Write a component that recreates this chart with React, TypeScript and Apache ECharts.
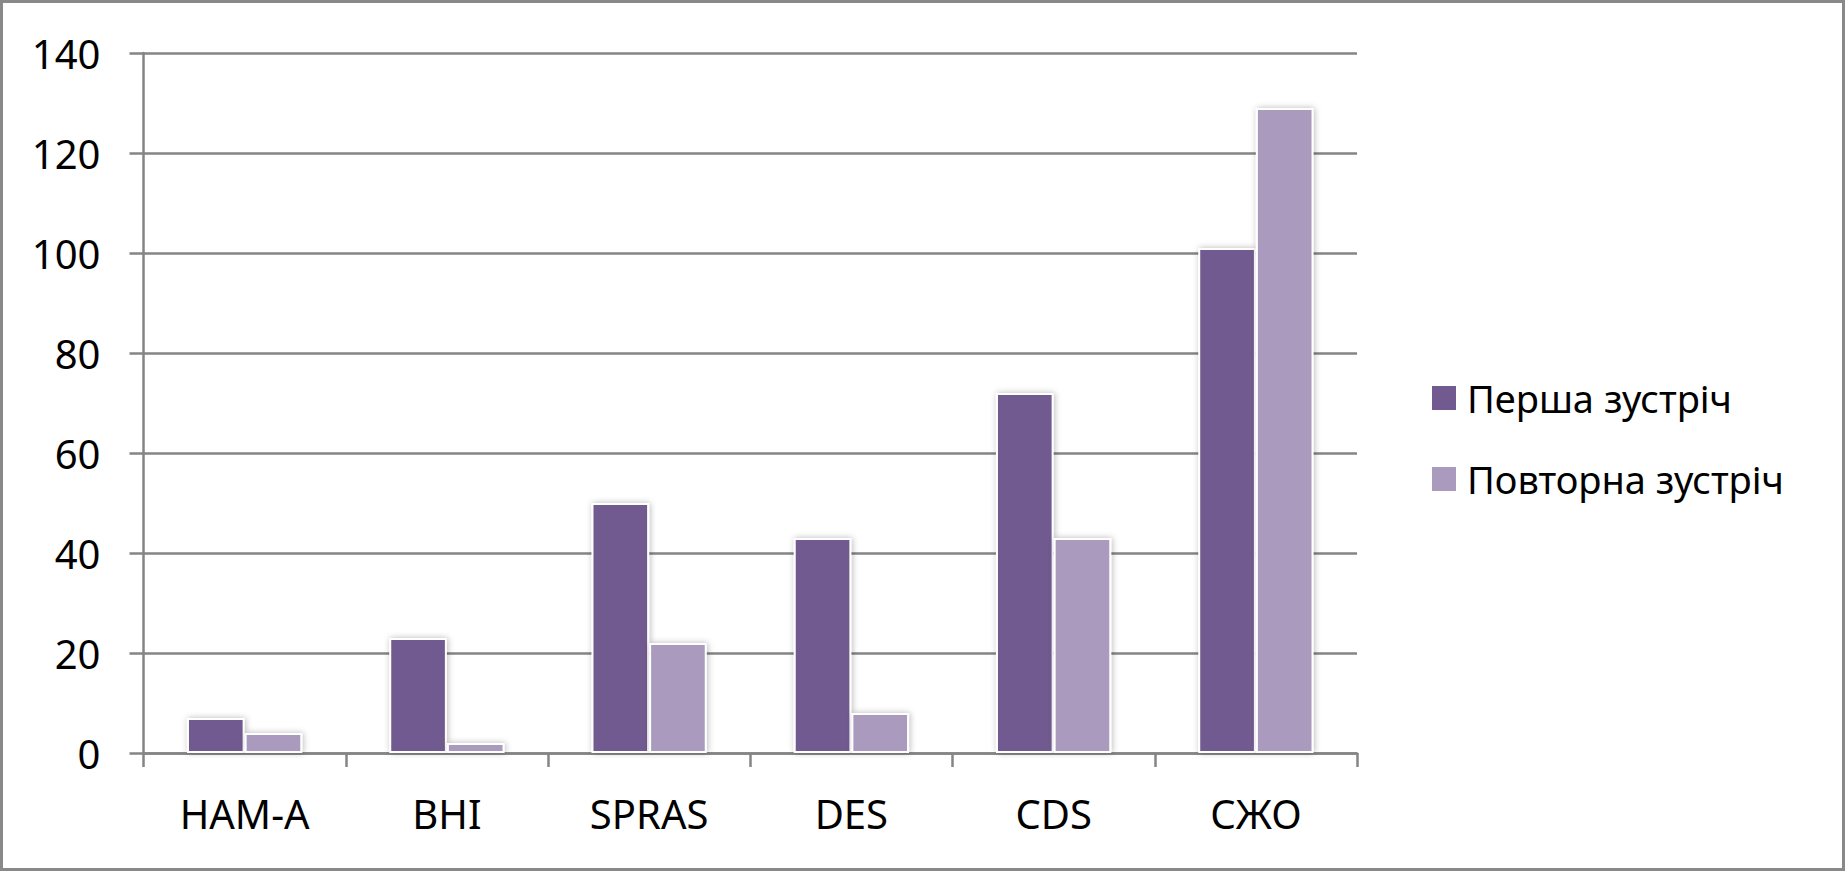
import React, { useEffect, useRef } from "react";
import * as echarts from "echarts";

const categories = ["HAM-A", "BHI", "SPRAS", "DES", "CDS", "СЖО"];
const firstMeeting = [7, 23, 50, 43, 72, 101];
const repeatMeeting = [4, 2, 22, 8, 43, 129];
const seriesNames = ["Перша зустріч", "Повторна зустріч"];
const yTicks = { min: 0, max: 140, interval: 20 };

const FONT = "'Noto Sans', 'DejaVu Sans', sans-serif";

export default function App() {
  const ref = useRef<HTMLDivElement>(null);
  useEffect(() => {
    if (!ref.current) return;
    const chart = echarts.init(ref.current, null, { renderer: "svg" });
    const barStyle = (color: string) => ({
      color,
      borderColor: "#ffffff",
      borderWidth: 2,
      shadowBlur: 6,
      shadowColor: "rgba(0,0,0,0.28)",
      shadowOffsetX: 1,
      shadowOffsetY: 0,
    });
    const gridColor = "#858585";
    chart.setOption({
      animation: false,
      backgroundColor: "#ffffff",
      textStyle: { fontFamily: FONT },
      graphic: [
        {
          type: "rect",
          shape: { x: 1.5, y: 1.5, width: 1842, height: 868 },
          style: { fill: "none", stroke: "#898989", lineWidth: 3 },
          silent: true,
        },
      ],
      grid: { left: 143.5, right: 488, top: 53, bottom: 118, containLabel: false },
      legend: {
        orient: "vertical",
        left: 1425,
        top: 374,
        itemGap: 43,
        itemWidth: 26,
        itemHeight: 26,
        icon: "rect",
        textStyle: { fontSize: 38, color: "#000000", fontFamily: FONT, padding: [0, 0, 0, 5] },
        data: seriesNames,
      },
      xAxis: {
        type: "category",
        data: categories,
        axisLine: { show: true, lineStyle: { color: gridColor, width: 2.5 } },
        axisTick: { show: true, length: 14, alignWithLabel: false, lineStyle: { color: gridColor, width: 2.5 } },
        axisLabel: { fontSize: 40, color: "#000000", margin: 40, fontFamily: FONT },
        splitLine: { show: false },
      },
      yAxis: {
        type: "value",
        min: yTicks.min,
        max: yTicks.max,
        interval: yTicks.interval,
        axisLine: { show: true, lineStyle: { color: gridColor, width: 2.5 } },
        axisTick: { show: true, length: 14, lineStyle: { color: gridColor, width: 2.5 } },
        axisLabel: { fontSize: 40, color: "#000000", margin: 43, fontFamily: FONT },
        splitLine: { show: true, lineStyle: { color: gridColor, width: 2.5 } },
      },
      series: [
        {
          name: seriesNames[0],
          type: "bar",
          data: firstMeeting,
          barGap: "0%",
          barCategoryGap: "43%",
          itemStyle: barStyle("#715a8f"),
        },
        {
          name: seriesNames[1],
          type: "bar",
          data: repeatMeeting,
          barGap: "0%",
          barCategoryGap: "43%",
          itemStyle: barStyle("#aa9bbe"),
        },
      ],
    });
    return () => chart.dispose();
  }, []);
  return (
    <div
      ref={ref}
      style={{ position: "fixed", left: 0, top: 0, width: 1845, height: 871, background: "#fff" }}
    />
  );
}
